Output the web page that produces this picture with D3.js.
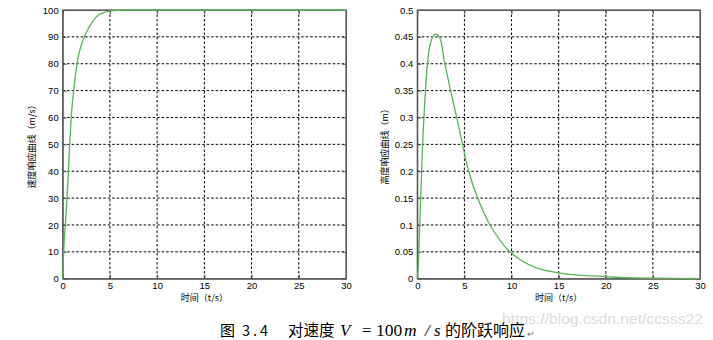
<!DOCTYPE html>
<html>
<head>
<meta charset="utf-8">
<script src="https://cdn.jsdelivr.net/npm/d3@7"></script>
<style>
  body { margin: 0; background: #fff; }
  svg { display: block; }
  .tick text { font-family: "Liberation Sans", Arial, sans-serif; font-size: 9.5px; fill: #000; }
</style>
</head>
<body>
<script>
// speed response (m/s)
var speedT = [0, 0.1, 0.28, 0.46, 0.6, 0.74, 0.9, 1.16, 1.52, 2.29, 2.7, 3.14, 3.77, 4.4, 5.0, 5.6, 6.2, 10, 20, 30]
var speedV = [0, 10, 20, 30, 40, 50, 60, 70, 80, 90, 93, 95.6, 98.1, 99.1, 99.6, 99.8, 100, 100, 100, 100]

// height response (m)
var heightT = [0, 0.1, 0.2, 0.3, 0.4, 0.5, 0.6, 0.72, 0.85, 1.06, 1.42, 1.88, 2.34, 2.87, 3.47, 4.18, 4.8, 5.45, 6.4, 7.72, 9.84, 12.5, 15, 17.5, 20, 22, 25, 30]
var heightH = [0, 0.02, 0.07, 0.12, 0.17, 0.22, 0.265, 0.305, 0.345, 0.395, 0.44, 0.455, 0.45, 0.405, 0.355, 0.3, 0.25, 0.2, 0.15, 0.1, 0.05, 0.021, 0.011, 0.006, 0.004, 0.002, 0.001, 0]

var xTicks = [0, 5, 10, 15, 20, 25, 30]
var speedTicks = [0, 10, 20, 30, 40, 50, 60, 70, 80, 90, 100]
var heightTicks = [0, 0.05, 0.1, 0.15, 0.2, 0.25, 0.3, 0.35, 0.4, 0.45, 0.5]

var width = 713, height = 340

var svg = d3.select("body")
            .append("svg")
            .attr("width", width)
            .attr("height", height)

function drawPanel(opt) {
    var x = d3.scaleLinear().domain([0, 30]).range([opt.left, opt.right])
    var y = d3.scaleLinear().domain(opt.yDomain).range([opt.bottom, opt.top])
    var g = svg.append("g")

    // dotted grid
    g.selectAll(".vgrid").data(xTicks.slice(1, -1)).enter().append("line")
     .attr("x1", d => x(d)).attr("x2", d => x(d))
     .attr("y1", opt.top).attr("y2", opt.bottom)
     .attr("stroke", "#000").attr("stroke-width", 1).attr("stroke-dasharray", "2.5,2")
    g.selectAll(".hgrid").data(opt.yTicks.slice(1, -1)).enter().append("line")
     .attr("x1", opt.left).attr("x2", opt.right)
     .attr("y1", d => y(d)).attr("y2", d => y(d))
     .attr("stroke", "#000").attr("stroke-width", 1).attr("stroke-dasharray", "2.5,2")

    // axes with inward ticks, matlab style
    g.append("g").attr("transform", "translate(0," + opt.bottom + ")")
     .call(d3.axisBottom(x).tickValues(xTicks).tickSizeInner(-4).tickSizeOuter(0).tickPadding(4))
    g.append("g").attr("transform", "translate(" + opt.left + ",0)")
     .call(d3.axisLeft(y).tickValues(opt.yTicks).tickFormat(opt.fmt).tickSizeInner(-4).tickSizeOuter(0).tickPadding(4))
    g.append("g").attr("transform", "translate(0," + opt.top + ")")
     .call(d3.axisTop(x).tickValues(xTicks).tickSizeInner(-4).tickSizeOuter(0).tickFormat(""))
    g.append("g").attr("transform", "translate(" + opt.right + ",0)")
     .call(d3.axisRight(y).tickValues(opt.yTicks).tickSizeInner(-4).tickSizeOuter(0).tickFormat(""))
    g.selectAll(".domain").attr("stroke", "#555")
    g.selectAll(".tick line").attr("stroke", "#555")

    // frame
    g.append("rect")
     .attr("x", opt.left).attr("y", opt.top)
     .attr("width", opt.right - opt.left).attr("height", opt.bottom - opt.top)
     .attr("fill", "none").attr("stroke", "#555").attr("stroke-width", 1.2)

    var line = d3.line()
                 .x((d, i) => x(opt.xs[i]))
                 .y(d => y(d))
                 .curve(opt.curve)
    g.append("path")
     .datum(opt.ys)
     .attr("d", line)
     .attr("fill", "none")
     .attr("stroke", "#55b555")
     .attr("stroke-width", 1.3)

    g.append("text")
     .attr("x", (opt.left + opt.right) / 2).attr("y", opt.bottom + 22)
     .attr("text-anchor", "middle")
     .style("font-family", "'Noto Sans CJK SC', sans-serif").style("font-size", "9px")
     .text("时间（t/s）")

    g.append("text")
     .attr("transform", "translate(" + opt.labelX + "," + ((opt.top + opt.bottom) / 2) + ") rotate(-90)")
     .attr("text-anchor", "middle")
     .style("font-family", "'Noto Sans CJK SC', sans-serif").style("font-size", "9px")
     .text(opt.yLabel)
}

drawPanel({
    left: 62.7, right: 346, top: 10, bottom: 278.7,
    yDomain: [0, 100], yTicks: speedTicks, fmt: d3.format("d"),
    xs: speedT, ys: speedV, yLabel: "速度响应曲线（m/s）", labelX: 35,
    curve: d3.curveMonotoneX
})

drawPanel({
    left: 417.3, right: 700, top: 10, bottom: 278.7,
    yDomain: [0, 0.5], yTicks: heightTicks, fmt: d => d === 0 ? "0" : String(d),
    xs: heightT, ys: heightH, yLabel: "高度响应曲线（m）", labelX: 388,
    curve: d3.curveCatmullRom.alpha(0.5)
})

// watermark (overlaps the caption in the original too)
svg.append("text")
   .attr("x", 502).attr("y", 324)
   .attr("textLength", 201).attr("lengthAdjust", "spacingAndGlyphs")
   .style("font-family", "'Liberation Sans', Arial, sans-serif").style("font-size", "14.5px")
   .attr("fill", "#dcdcdc")
   .text("https://blog.csdn.net/ccsss22")

// caption
var cjk = "'Noto Sans CJK SC', sans-serif", serif = "'Liberation Serif', serif"
function cap(txt, x, font, size, italic) {
    return svg.append("text").attr("x", x).attr("y", 335.5)
              .style("font-family", font).style("font-size", size + "px")
              .style("font-style", italic ? "italic" : "normal")
              .attr("fill", "#000").text(txt)
}
cap("图", 220, cjk, 15)
cap("3", 242, cjk, 14.5)
cap(".", 253, cjk, 14.5)
cap("4", 260, cjk, 14.5)
cap("对速度", 288, cjk, 15.5)
cap("V", 340, serif, 17, true)
cap("=", 362, serif, 17)
cap("100", 376, serif, 17.5)
cap("m", 404, serif, 17.5, true)
cap("/", 425, serif, 17, true)
cap("s", 434, serif, 17, true)
cap("的阶跃响应", 445, cjk, 16)
svg.append("text").attr("x", 527).attr("y", 337).style("font-size", "9px").attr("fill", "#777").text("↵")
</script>
</body>
</html>
